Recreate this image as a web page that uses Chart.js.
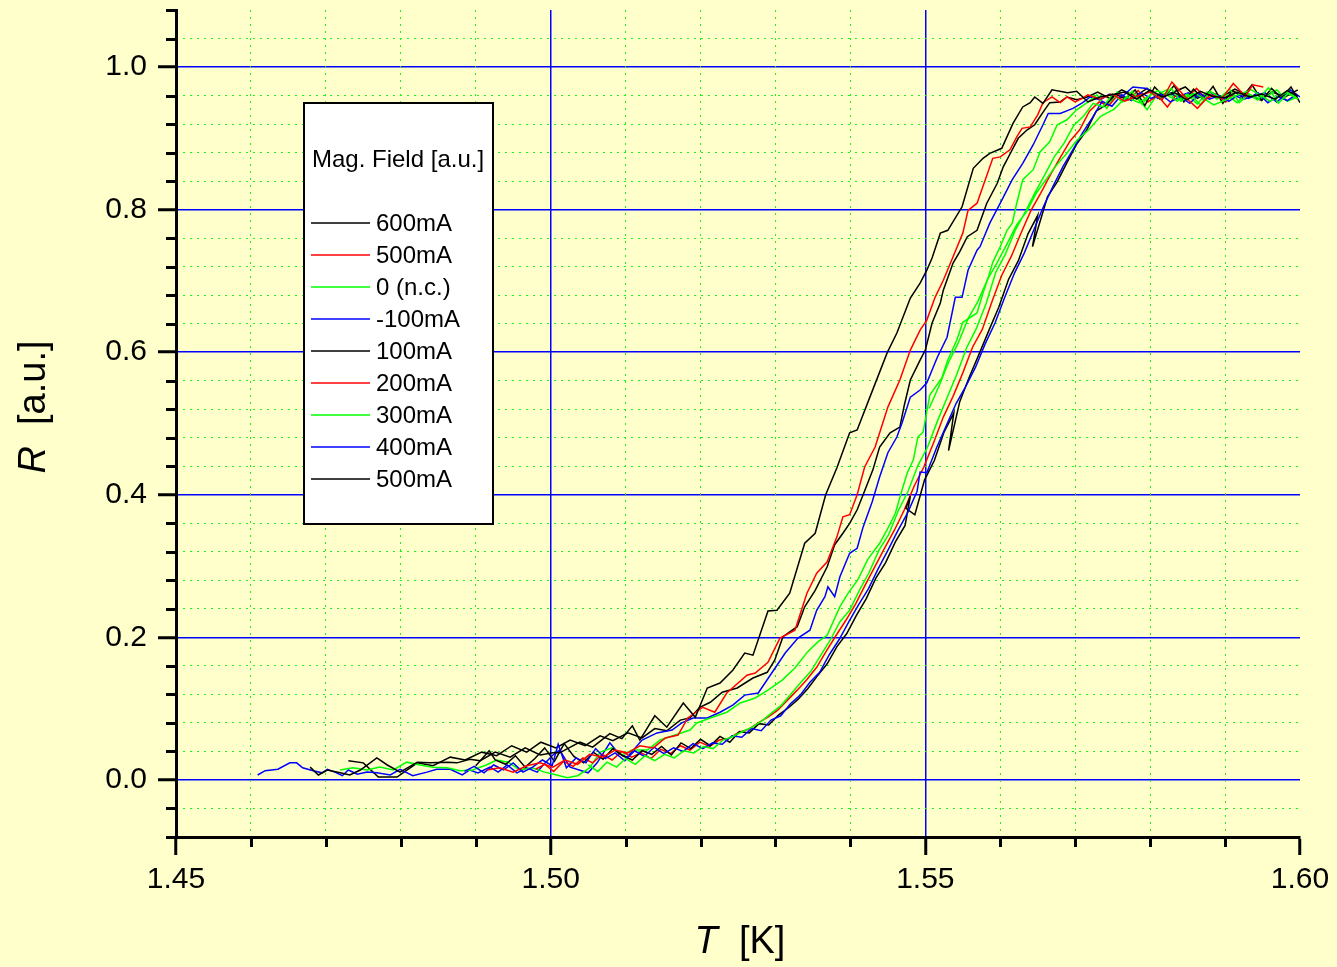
<!DOCTYPE html>
<html>
<head>
<meta charset="utf-8">
<title>R vs T</title>
<script src="https://cdn.jsdelivr.net/npm/chart.js@4.4.1/dist/chart.umd.min.js"></script>
<style>
  html, body { margin: 0; padding: 0; background: #ffffcc; }
  #chart-wrapper { width: 1337px; height: 967px; }
</style>
</head>
<body>
<div id="chart-wrapper"><canvas id="chart" width="1337" height="967"></canvas></div>
<script>
// tick labels
const xTickLabels = ["1.45", "1.50", "1.55", "1.60"];
const yTickLabels = ["0.0", "0.2", "0.4", "0.6", "0.8", "1.0"];

// legend entries, in legend order
const seriesLabels = ["600mA", "500mA", "0 (n.c.)", "-100mA", "100mA", "200mA", "300mA", "400mA", "500mA"];
const seriesColors = ["#000000", "#ff0000", "#00ff00", "#0000ff", "#000000", "#ff0000", "#00ff00", "#0000ff", "#000000"];

// 600mA (black)
const s600T = [1.4679,1.4690,1.4702,1.4719,1.4732,1.4746,1.4768,1.4782,1.4799,1.4822,1.4839,1.4862,1.4875,1.4892,1.4906,1.4926,1.4946,1.4966,1.4986,1.5003,1.5012,1.5039,1.5056,1.5079,1.5095,1.5109,1.5119,1.5139,1.5155,1.5177,1.5193,1.5209,1.5226,1.5243,1.5259,1.5270,1.5290,1.5302,1.5319,1.5339,1.5353,1.5367,1.5382,1.5399,1.5409,1.5426,1.5449,1.5462,1.5480,1.5493,1.5502,1.5509,1.5520,1.5530,1.5549,1.5564,1.5577,1.5586,1.5602,1.5617,1.5630,1.5640,1.5646,1.5657,1.5669,1.5690,1.5702,1.5717,1.5733,1.5749,1.5766,1.5782,1.5800,1.5816,1.5833,1.5849,1.5867,1.5883,1.5900,1.5916,1.5933,1.5949,1.5967,1.5983,1.5997];
const s600R = [0.018,0.007,0.014,0.010,0.007,0.014,0.031,0.021,0.011,0.025,0.024,0.025,0.024,0.029,0.027,0.039,0.032,0.045,0.035,0.038,0.038,0.053,0.046,0.065,0.058,0.076,0.056,0.090,0.074,0.108,0.088,0.129,0.136,0.154,0.178,0.175,0.237,0.238,0.262,0.332,0.346,0.400,0.438,0.487,0.491,0.537,0.599,0.627,0.676,0.697,0.715,0.732,0.767,0.771,0.804,0.858,0.872,0.879,0.886,0.921,0.944,0.950,0.958,0.949,0.968,0.964,0.966,0.951,0.958,0.961,0.965,0.955,0.968,0.958,0.964,0.954,0.966,0.959,0.957,0.965,0.958,0.962,0.955,0.967,0.959];

// 500mA (red)
const s500rT = [1.4915,1.4932,1.4950,1.4968,1.4986,1.5003,1.5019,1.5036,1.5052,1.5070,1.5086,1.5103,1.5119,1.5137,1.5153,1.5170,1.5183,1.5203,1.5219,1.5235,1.5262,1.5273,1.5290,1.5306,1.5326,1.5342,1.5355,1.5369,1.5382,1.5390,1.5399,1.5409,1.5419,1.5433,1.5450,1.5466,1.5480,1.5493,1.5502,1.5513,1.5524,1.5537,1.5550,1.5557,1.5569,1.5580,1.5590,1.5600,1.5613,1.5622,1.5629,1.5640,1.5650,1.5657,1.5669,1.5680,1.5689,1.5700,1.5709,1.5717,1.5733,1.5749,1.5766,1.5782,1.5800,1.5816,1.5829,1.5847,1.5863,1.5880,1.5896,1.5911,1.5927,1.5937,1.5951];
const s500rR = [0.014,0.017,0.011,0.020,0.024,0.018,0.028,0.022,0.036,0.032,0.042,0.038,0.048,0.045,0.059,0.063,0.087,0.102,0.095,0.122,0.147,0.150,0.165,0.199,0.210,0.262,0.290,0.306,0.341,0.369,0.372,0.400,0.439,0.467,0.523,0.561,0.603,0.631,0.645,0.677,0.701,0.734,0.767,0.799,0.809,0.842,0.872,0.874,0.884,0.902,0.914,0.916,0.933,0.950,0.958,0.950,0.958,0.951,0.956,0.961,0.955,0.962,0.952,0.959,0.965,0.954,0.979,0.958,0.942,0.961,0.956,0.977,0.959,0.975,0.972];

// 0 (n.c.) (green) - up sweep then down sweep
const s0T = [1.5050,1.5063,1.5075,1.5088,1.5100,1.5113,1.5126,1.5139,1.5152,1.5165,1.5178,1.5191,1.5204,1.5217,1.5230,1.5243,1.5256,1.5269,1.5282,1.5295,1.5308,1.5321,1.5334,1.5347,1.5360,1.5373,1.5386,1.5399,1.5412,1.5425,1.5438,1.5451,1.5464,1.5477,1.5490,1.5503,1.5516,1.5529,1.5542,1.5555,1.5568,1.5581,1.5594,1.5607,1.5620,1.5633,1.5646,1.5659,1.5672,1.5685,1.5698,1.5711,1.5724,1.5737,1.5750,1.5763,1.5776,1.5789,1.5802,1.5815,1.5828,1.5841,1.5854,1.5867,1.5880,1.5893,1.5906,1.5919,1.5932,1.5945,1.5958,1.5971,1.5984,1.5997,
  1.5985,1.5960,1.5935,1.5910,1.5885,1.5860,1.5835,1.5810,1.5785,1.5768,1.5752,1.5734,1.5718,1.5702,1.5688,1.5674,1.5661,1.5648,1.5635,1.5622,1.5609,1.5596,1.5583,1.5570,1.5557,1.5544,1.5531,1.5518,1.5505];
const s0R = [0.021,0.012,0.025,0.018,0.030,0.022,0.034,0.027,0.036,0.031,0.041,0.038,0.047,0.044,0.056,0.061,0.068,0.074,0.083,0.094,0.105,0.121,0.137,0.152,0.174,0.196,0.222,0.238,0.266,0.291,0.322,0.344,0.378,0.405,0.441,0.467,0.503,0.536,0.569,0.606,0.633,0.668,0.712,0.738,0.771,0.796,0.823,0.848,0.874,0.893,0.918,0.931,0.949,0.944,0.962,0.951,0.966,0.948,0.963,0.955,0.970,0.952,0.961,0.947,0.966,0.957,0.969,0.950,0.962,0.956,0.971,0.949,0.963,0.955,
  0.966,0.952,0.968,0.958,0.947,0.963,0.954,0.967,0.950,0.958,0.941,0.931,0.912,0.897,0.878,0.861,0.842,0.823,0.797,0.779,0.752,0.726,0.702,0.671,0.647,0.613,0.586,0.552,0.521];

// -100mA (blue)
const sm100T = [1.4885,1.4898,1.4911,1.4924,1.4937,1.4950,1.4963,1.4976,1.4989,1.5002,1.5010,1.5021,1.5034,1.5047,1.5060,1.5073,1.5086,1.5099,1.5112,1.5125,1.5138,1.5151,1.5164,1.5177,1.5190,1.5203,1.5216,1.5229,1.5242,1.5255,1.5268,1.5281,1.5294,1.5307,1.5320,1.5333,1.5346,1.5359,1.5372,1.5385,1.5398,1.5411,1.5424,1.5437,1.5450,1.5463,1.5476,1.5489,1.5493,1.5502,1.5515,1.5528,1.5541,1.5554,1.5567,1.5580,1.5593,1.5606,1.5619,1.5632,1.5645,1.5658,1.5671,1.5684,1.5697,1.5710,1.5723,1.5736,1.5749,1.5762,1.5775,1.5788,1.5801,1.5814,1.5827,1.5840,1.5853,1.5866,1.5879,1.5892,1.5905,1.5918,1.5931,1.5944,1.5957,1.5970,1.5983,1.5996];
const sm100R = [0.012,0.019,0.010,0.021,0.014,0.024,0.011,0.018,0.028,0.020,0.050,0.017,0.031,0.024,0.044,0.030,0.038,0.027,0.041,0.033,0.046,0.037,0.045,0.040,0.051,0.044,0.052,0.050,0.062,0.060,0.072,0.069,0.084,0.090,0.107,0.119,0.137,0.151,0.176,0.197,0.222,0.246,0.268,0.296,0.322,0.349,0.374,0.405,0.432,0.431,0.466,0.497,0.528,0.552,0.579,0.612,0.641,0.677,0.711,0.739,0.772,0.805,0.834,0.861,0.884,0.908,0.929,0.952,0.945,0.961,0.953,0.964,0.956,0.962,0.951,0.958,0.949,0.963,0.955,0.960,0.952,0.961,0.956,0.964,0.950,0.959,0.953,0.962];

// 100mA (black)
const s100T = [1.4900,1.4918,1.4926,1.4940,1.4953,1.4966,1.4979,1.4992,1.5005,1.5018,1.5031,1.5044,1.5057,1.5070,1.5083,1.5096,1.5109,1.5122,1.5135,1.5148,1.5161,1.5174,1.5187,1.5200,1.5213,1.5226,1.5239,1.5252,1.5265,1.5278,1.5291,1.5304,1.5317,1.5330,1.5343,1.5356,1.5369,1.5382,1.5395,1.5408,1.5421,1.5434,1.5447,1.5460,1.5473,1.5480,1.5474,1.5486,1.5499,1.5512,1.5525,1.5538,1.5531,1.5546,1.5559,1.5572,1.5585,1.5598,1.5611,1.5624,1.5637,1.5650,1.5643,1.5663,1.5676,1.5689,1.5702,1.5715,1.5728,1.5741,1.5754,1.5767,1.5780,1.5793,1.5806,1.5819,1.5832,1.5845,1.5858,1.5871,1.5884,1.5897,1.5910,1.5923,1.5936,1.5949,1.5962,1.5975,1.5988,1.6000];
const s100R = [0.020,0.041,0.028,0.022,0.034,0.018,0.030,0.045,0.026,0.051,0.033,0.024,0.039,0.029,0.044,0.034,0.028,0.041,0.036,0.047,0.035,0.052,0.044,0.057,0.048,0.061,0.053,0.068,0.066,0.079,0.077,0.091,0.101,0.113,0.128,0.146,0.163,0.187,0.205,0.231,0.254,0.283,0.305,0.334,0.357,0.398,0.381,0.372,0.421,0.448,0.488,0.515,0.462,0.531,0.566,0.598,0.631,0.663,0.702,0.728,0.766,0.792,0.748,0.818,0.839,0.866,0.892,0.911,0.938,0.947,0.962,0.955,0.968,0.946,0.972,0.958,0.974,0.951,0.969,0.955,0.973,0.949,0.967,0.958,0.975,0.953,0.970,0.957,0.972,0.950];

// 200mA (red)
const s200T = [1.4980,1.4992,1.5004,1.5017,1.5030,1.5043,1.5056,1.5069,1.5082,1.5095,1.5108,1.5121,1.5134,1.5147,1.5160,1.5173,1.5186,1.5199,1.5212,1.5225,1.5238,1.5251,1.5264,1.5277,1.5290,1.5303,1.5316,1.5329,1.5342,1.5355,1.5368,1.5381,1.5394,1.5407,1.5420,1.5433,1.5446,1.5459,1.5472,1.5485,1.5498,1.5511,1.5524,1.5537,1.5550,1.5563,1.5576,1.5589,1.5602,1.5615,1.5628,1.5641,1.5654,1.5667,1.5680,1.5693,1.5706,1.5719,1.5732,1.5745,1.5758,1.5771,1.5784,1.5797,1.5810,1.5823,1.5836,1.5849,1.5862,1.5875,1.5888,1.5901,1.5914];
const s200R = [0.015,0.022,0.012,0.026,0.019,0.031,0.024,0.036,0.028,0.040,0.032,0.038,0.030,0.043,0.037,0.048,0.042,0.053,0.047,0.056,0.058,0.067,0.071,0.080,0.088,0.098,0.112,0.126,0.141,0.158,0.181,0.203,0.224,0.247,0.274,0.300,0.326,0.351,0.379,0.412,0.439,0.473,0.509,0.538,0.571,0.607,0.632,0.671,0.708,0.735,0.768,0.799,0.823,0.849,0.873,0.896,0.912,0.938,0.951,0.946,0.962,0.954,0.967,0.951,0.960,0.944,0.963,0.957,0.970,0.955,0.962,0.951,0.966];

// 300mA (green)
const s300T = [1.4719,1.4736,1.4755,1.4772,1.4790,1.4808,1.4826,1.4843,1.4862,1.4879,1.4896,1.4914,1.4928,1.4943,1.4959,1.4975,1.4992,1.5008,1.5022,1.5036,1.5052,1.5066,1.5082,1.5095,1.5109,1.5129,1.5146,1.5166,1.5186,1.5195,1.5213,1.5235,1.5253,1.5273,1.5290,1.5309,1.5326,1.5343,1.5357,1.5369,1.5386,1.5397,1.5410,1.5423,1.5439,1.5449,1.5460,1.5469,1.5476,1.5484,1.5490,1.5497,1.5506,1.5522,1.5530,1.5542,1.5550,1.5569,1.5577,1.5584,1.5590,1.5600,1.5609,1.5616,1.5622,1.5630,1.5644,1.5653,1.5666,1.5676,1.5689,1.5702,1.5716,1.5729,1.5742,1.5756,1.5769,1.5782,1.5796,1.5809,1.5822,1.5836,1.5849,1.5863,1.5876,1.5889,1.5903,1.5916,1.5929,1.5943,1.5956,1.5969,1.5983,1.5996];
const s300R = [0.014,0.017,0.014,0.018,0.014,0.025,0.021,0.018,0.017,0.013,0.014,0.021,0.028,0.025,0.014,0.017,0.011,0.007,0.003,0.006,0.017,0.039,0.045,0.035,0.042,0.042,0.056,0.063,0.070,0.080,0.087,0.095,0.108,0.115,0.126,0.140,0.157,0.180,0.194,0.203,0.243,0.262,0.281,0.309,0.332,0.351,0.374,0.407,0.431,0.449,0.481,0.488,0.540,0.564,0.589,0.617,0.642,0.655,0.683,0.705,0.726,0.748,0.771,0.781,0.809,0.842,0.856,0.881,0.895,0.919,0.926,0.940,0.950,0.961,0.942,0.965,0.954,0.958,0.940,0.961,0.968,0.952,0.962,0.948,0.965,0.955,0.961,0.950,0.964,0.954,0.959,0.968,0.952,0.958];

// 400mA (blue)
const s400T = [1.4609,1.4619,1.4636,1.4652,1.4661,1.4669,1.4683,1.4695,1.4702,1.4712,1.4722,1.4730,1.4742,1.4755,1.4768,1.4786,1.4799,1.4816,1.4835,1.4848,1.4866,1.4882,1.4892,1.4903,1.4919,1.4930,1.4942,1.4955,1.4968,1.4982,1.4990,1.5003,1.5012,1.5026,1.5050,1.5062,1.5079,1.5090,1.5102,1.5122,1.5142,1.5162,1.5175,1.5190,1.5209,1.5226,1.5243,1.5259,1.5277,1.5295,1.5313,1.5330,1.5346,1.5355,1.5366,1.5370,1.5379,1.5386,1.5399,1.5409,1.5417,1.5429,1.5439,1.5450,1.5462,1.5469,1.5480,1.5493,1.5502,1.5516,1.5529,1.5540,1.5549,1.5557,1.5569,1.5573,1.5586,1.5600,1.5616,1.5630,1.5644,1.5657,1.5664,1.5680,1.5697,1.5710,1.5720,1.5733,1.5746,1.5760,1.5777,1.5796,1.5810,1.5824,1.5836,1.5851,1.5867,1.5883,1.5896,1.5911,1.5924,1.5937,1.5953,1.5969,1.5987,1.6000];
const s400R = [0.007,0.013,0.015,0.024,0.024,0.017,0.013,0.010,0.015,0.011,0.006,0.014,0.008,0.011,0.010,0.007,0.015,0.006,0.011,0.015,0.015,0.007,0.014,0.010,0.018,0.011,0.021,0.010,0.017,0.011,0.021,0.035,0.042,0.018,0.010,0.024,0.052,0.038,0.032,0.056,0.066,0.070,0.080,0.087,0.087,0.095,0.105,0.119,0.122,0.150,0.178,0.199,0.210,0.238,0.257,0.271,0.257,0.285,0.318,0.325,0.355,0.390,0.425,0.459,0.481,0.501,0.537,0.547,0.557,0.593,0.621,0.677,0.677,0.715,0.743,0.748,0.781,0.809,0.842,0.865,0.891,0.919,0.935,0.935,0.942,0.950,0.958,0.954,0.962,0.956,0.972,0.970,0.956,0.965,0.958,0.964,0.958,0.962,0.956,0.961,0.955,0.958,0.964,0.951,0.968,0.958];

// 500mA (black)
const s500kT = [1.4730,1.4750,1.4770,1.4795,1.4822,1.4843,1.4866,1.4886,1.4908,1.4928,1.4948,1.4968,1.4987,1.5007,1.5026,1.5046,1.5066,1.5083,1.5103,1.5122,1.5139,1.5155,1.5173,1.5186,1.5199,1.5213,1.5229,1.5249,1.5270,1.5289,1.5299,1.5310,1.5329,1.5339,1.5353,1.5369,1.5379,1.5390,1.5399,1.5409,1.5417,1.5430,1.5439,1.5453,1.5466,1.5472,1.5480,1.5493,1.5500,1.5509,1.5520,1.5524,1.5537,1.5546,1.5556,1.5569,1.5582,1.5596,1.5604,1.5616,1.5624,1.5636,1.5646,1.5656,1.5666,1.5680,1.5689,1.5702,1.5716,1.5730,1.5746,1.5762,1.5780,1.5796,1.5813,1.5829,1.5847,1.5863,1.5880,1.5896,1.5913,1.5929,1.5947,1.5963,1.5980,1.5997];
const s500kR = [0.027,0.024,0.004,0.004,0.024,0.020,0.032,0.028,0.039,0.034,0.048,0.039,0.053,0.045,0.056,0.048,0.062,0.055,0.066,0.059,0.072,0.069,0.084,0.087,0.102,0.109,0.123,0.129,0.143,0.151,0.168,0.201,0.215,0.243,0.266,0.299,0.330,0.346,0.360,0.379,0.400,0.435,0.467,0.487,0.495,0.526,0.561,0.589,0.603,0.641,0.669,0.687,0.725,0.741,0.762,0.771,0.809,0.837,0.860,0.884,0.900,0.912,0.919,0.935,0.950,0.951,0.958,0.954,0.958,0.965,0.956,0.968,0.959,0.970,0.955,0.964,0.972,0.956,0.965,0.958,0.969,0.961,0.954,0.965,0.958,0.968];

const seriesT = [s600T, s500rT, s0T, sm100T, s100T, s200T, s300T, s400T, s500kT];
const seriesR = [s600R, s500rR, s0R, sm100R, s100R, s200R, s300R, s400R, s500kR];

const FONT = "'Liberation Sans', Arial, sans-serif";

// helpers for major / minor ticks
const isMajorX = (v) => Math.abs(v * 20 - Math.round(v * 20)) < 1e-6;
const isMajorY = (v) => Math.abs(v * 5 - Math.round(v * 5)) < 1e-6;
const isEdgeX = (v) => Math.abs(v - 1.45) < 1e-6 || Math.abs(v - 1.6) < 1e-6;

// pair up T and R
function toPoints(ts, rs) {
  return ts.map((t, i) => ({ x: t, y: rs[i] }));
}

const datasets = seriesLabels.map((label, i) => ({
  label: label,
  data: toPoints(seriesT[i], seriesR[i]),
  borderColor: seriesColors[i],
  backgroundColor: seriesColors[i],
  borderWidth: 1.5,
  pointRadius: 0,
  fill: false,
  tension: 0,
}));

// short minor tick marks on both axes
const minorTicks = {
  id: "minorTicks",
  afterDraw(chart) {
    const { ctx, chartArea, scales } = chart;
    ctx.save();
    ctx.strokeStyle = "#000000";
    ctx.lineWidth = 3;
    ctx.beginPath();
    scales.x.ticks.forEach((t) => {
      if (isMajorX(t.value)) return;
      const px = Math.round(scales.x.getPixelForValue(t.value)) + 0.5;
      ctx.moveTo(px, chartArea.bottom);
      ctx.lineTo(px, chartArea.bottom + 10);
    });
    scales.y.ticks.forEach((t) => {
      if (isMajorY(t.value)) return;
      const py = Math.round(scales.y.getPixelForValue(t.value)) + 0.5;
      ctx.moveTo(chartArea.left - 10, py);
      ctx.lineTo(chartArea.left, py);
    });
    ctx.stroke();
    ctx.restore();
  },
};

// boxed legend inside the plot
const boxLegend = {
  id: "boxLegend",
  afterDraw(chart) {
    const ctx = chart.ctx;
    ctx.save();
    ctx.fillStyle = "#ffffff";
    ctx.fillRect(304, 103, 189, 421);
    ctx.strokeStyle = "#000000";
    ctx.lineWidth = 2;
    ctx.strokeRect(304, 103, 189, 421);

    ctx.fillStyle = "#000000";
    ctx.font = "24px " + FONT;
    ctx.textBaseline = "middle";
    ctx.textAlign = "left";
    ctx.fillText("Mag. Field [a.u.]", 312, 160);

    chart.data.datasets.forEach((ds, i) => {
      const y = 223 + i * 32;
      ctx.strokeStyle = ds.borderColor;
      ctx.lineWidth = 1.5;
      ctx.beginPath();
      ctx.moveTo(311, y);
      ctx.lineTo(370, y);
      ctx.stroke();
      ctx.fillStyle = "#000000";
      ctx.fillText(ds.label, 376, y + 1);
    });
    ctx.restore();
  },
};

// axis titles with italic symbol
const axisTitles = {
  id: "axisTitles",
  afterDraw(chart) {
    const ctx = chart.ctx;
    const sym = "italic 38px " + FONT;
    const reg = "38px " + FONT;
    ctx.save();
    ctx.fillStyle = "#000000";
    ctx.textBaseline = "alphabetic";
    ctx.textAlign = "left";

    // x title
    ctx.font = sym;
    const wT = ctx.measureText("T").width;
    ctx.font = reg;
    const wK = ctx.measureText("  [K]").width;
    let x0 = 740 - (wT + wK) / 2;
    ctx.font = sym;
    ctx.fillText("T", x0, 953);
    ctx.font = reg;
    ctx.fillText("  [K]", x0 + wT, 953);

    // y title
    ctx.translate(45, 407);
    ctx.rotate(-Math.PI / 2);
    ctx.font = sym;
    const wR = ctx.measureText("R").width;
    ctx.font = reg;
    const wU = ctx.measureText("  [a.u.]").width;
    x0 = -(wR + wU) / 2;
    ctx.font = sym;
    ctx.fillText("R", x0, 0);
    ctx.font = reg;
    ctx.fillText("  [a.u.]", x0 + wR, 0);
    ctx.restore();
  },
};

// keep the plot box fixed, no label overhang padding
function fixX(scale) {
  scale.height = 130;
  scale.paddingLeft = 0;
  scale.paddingRight = 0;
}
function fixY(scale) {
  scale.width = 176;
  scale.paddingTop = 0;
  scale.paddingBottom = 0;
}

new Chart(document.getElementById("chart"), {
  type: "line",
  data: { datasets: datasets },
  options: {
    responsive: false,
    animation: false,
    events: [],
    layout: { padding: { top: 10, right: 37, left: 0, bottom: 0 } },
    plugins: {
      legend: { display: false },
      tooltip: { enabled: false },
    },
    scales: {
      x: {
        type: "linear",
        position: "bottom",
        min: 1.45,
        max: 1.6,
        afterFit: fixX,
        ticks: {
          stepSize: 0.01,
          autoSkip: false,
          maxRotation: 0,
          padding: 7,
          color: "#000000",
          font: { family: FONT, size: 30 },
          callback: (v) => {
            const s = Number(v).toFixed(2);
            return isMajorX(v) && xTickLabels.includes(s) ? s : "";
          },
        },
        grid: {
          color: (c) => (c.tick && isMajorX(c.tick.value) && !isEdgeX(c.tick.value) ? "#0000ff" : "rgba(0,0,0,0)"),
          lineWidth: 1.5,
          drawTicks: true,
          tickLength: 18,
          tickWidth: 3,
          tickColor: (c) => (c.tick && isMajorX(c.tick.value) ? "#000000" : "rgba(0,0,0,0)"),
        },
        border: { display: true, color: "#000000", width: 3 },
      },
      y: {
        type: "linear",
        position: "left",
        min: -0.08,
        max: 1.08,
        afterFit: fixY,
        ticks: {
          stepSize: 0.04,
          autoSkip: false,
          padding: 11,
          color: "#000000",
          font: { family: FONT, size: 30 },
          callback: (v) => {
            const s = Number(v).toFixed(1);
            return isMajorY(v) && yTickLabels.includes(s) ? s : "";
          },
        },
        grid: {
          color: (c) => (c.tick && isMajorY(c.tick.value) ? "#0000ff" : "rgba(0,0,0,0)"),
          lineWidth: 1.5,
          drawTicks: true,
          tickLength: 18,
          tickWidth: 3,
          tickColor: (c) => (c.tick && isMajorY(c.tick.value) ? "#000000" : "rgba(0,0,0,0)"),
        },
        border: { display: true, color: "#000000", width: 3 },
      },
      // dotted minor grid
      xMinor: {
        type: "linear",
        axis: "x",
        position: "bottom",
        min: 1.45,
        max: 1.6,
        afterFit: (s) => { s.height = 0; s.paddingLeft = 0; s.paddingRight = 0; },
        ticks: { display: false, stepSize: 0.01, autoSkip: false },
        grid: {
          color: (c) => (c.tick && !isMajorX(c.tick.value) ? "#22ee22" : "rgba(0,0,0,0)"),
          lineWidth: 1,
          drawTicks: false,
        },
        border: { display: false, dash: [2, 5] },
      },
      yMinor: {
        type: "linear",
        axis: "y",
        position: "left",
        min: -0.08,
        max: 1.08,
        afterFit: (s) => { s.width = 0; s.paddingTop = 0; s.paddingBottom = 0; },
        ticks: { display: false, stepSize: 0.04, autoSkip: false },
        grid: {
          color: (c) => (c.tick && !isMajorY(c.tick.value) && Math.abs(c.tick.value - 1.08) > 1e-6 && Math.abs(c.tick.value + 0.08) > 1e-6 ? "#22ee22" : "rgba(0,0,0,0)"),
          lineWidth: 1,
          drawTicks: false,
        },
        border: { display: false, dash: [2, 5] },
      },
    },
  },
  plugins: [minorTicks, boxLegend, axisTitles],
});
</script>
</body>
</html>
